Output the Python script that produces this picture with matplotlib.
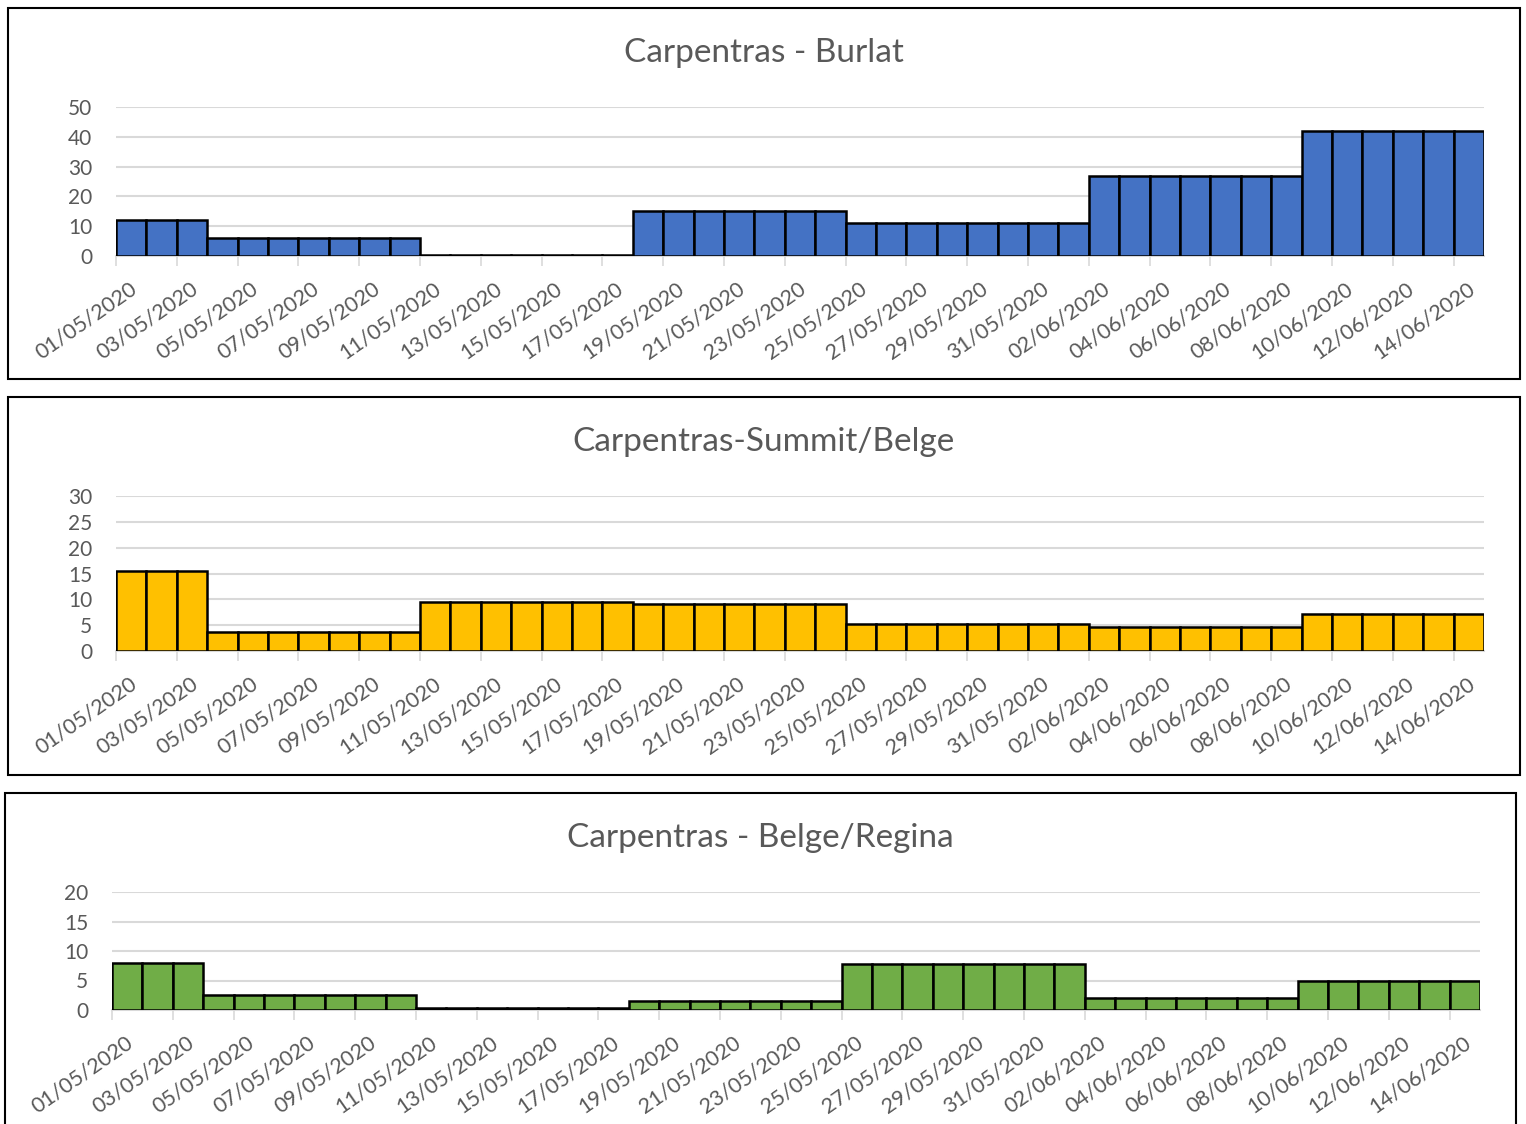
import matplotlib
matplotlib.use("Agg")
import matplotlib.pyplot as plt
from matplotlib.patches import Rectangle
import matplotlib.transforms as mtransforms
import datetime as dt

# --- data ---
start = dt.date(2020, 5, 1)
days = [start + dt.timedelta(days=i) for i in range(45)]
date_labels = [d.strftime("%d/%m/%Y") for d in days]

burlat = [12] * 3 + [6] * 7 + [0.4] * 7 + [15] * 7 + [11] * 8 + [27] * 7 + [42] * 6
summit_belge = [15.5] * 3 + [3.7] * 7 + [9.5] * 7 + [9.1] * 7 + [5.3] * 8 + [4.7] * 7 + [7.1] * 6
belge_regina = [8] * 3 + [2.5] * 7 + [0.4] * 7 + [1.5] * 7 + [7.8] * 8 + [2.1] * 7 + [4.9] * 6

titles = ["Carpentras - Burlat", "Carpentras-Summit/Belge", "Carpentras - Belge/Regina"]
series = [burlat, summit_belge, belge_regina]
colors = ["#4472C4", "#FFC000", "#70AD47"]
yticks = [[0, 10, 20, 30, 40, 50], [0, 5, 10, 15, 20, 25, 30], [0, 5, 10, 15, 20]]

W, H = 1526, 1124
DPI = 100
plt.rcParams["font.family"] = ["Lato", "DejaVu Sans"]
fig = plt.figure(figsize=(W / DPI, H / DPI), dpi=DPI)

grey = "#595959"

# pixel layouts: (box x0, y0, x1, y1), (plot left, top, right, bottom), title y
layouts = [
    ((8, 8, 1520, 379), (116, 107, 1484, 256), 53),
    ((8, 397, 1520, 775), (116, 496, 1484, 651), 442),
    ((5, 793, 1516, 1130), (112, 892, 1480, 1010), 838),
]


def fx(x):
    return x / W


def fy(y):
    return 1 - y / H


for vals, title, col, yt, (box, plot, ty) in zip(series, titles, colors, yticks, layouts):
    bx0, by0, bx1, by1 = box
    fig.add_artist(Rectangle((fx(bx0), fy(by1)), fx(bx1 - bx0), (by1 - by0) / H,
                             transform=fig.transFigure, fill=False,
                             edgecolor="black", linewidth=1.5))
    l, t, r, b = plot
    ax = fig.add_axes([fx(l), fy(b), fx(r - l), (b - t) / H])
    ax.bar(range(len(vals)), vals, width=1, align="edge", color=col,
           edgecolor="black", linewidth=1.8, zorder=3)
    ax.set_xlim(0, len(vals))
    ax.set_ylim(yt[0], yt[-1])
    ax.set_yticks(yt)
    ax.grid(axis="y", color="#d9d9d9", linewidth=1.5, zorder=0)
    for s in ["top", "right", "left"]:
        ax.spines[s].set_visible(False)
    ax.spines["bottom"].set_color("#d9d9d9")
    ax.spines["bottom"].set_linewidth(1.5)
    ax.tick_params(axis="y", length=0, pad=17, labelsize=15, labelcolor=grey)
    ax.set_xticks(range(0, len(vals), 2))
    ax.set_xticklabels(date_labels[::2], rotation=35, ha="right",
                       rotation_mode="anchor", fontsize=15.5, color=grey)
    ax.tick_params(axis="x", length=7, width=1.2, color="#d9d9d9", pad=9)
    offset = mtransforms.ScaledTranslation(13 / DPI, 0, fig.dpi_scale_trans)
    for lab in ax.get_xticklabels():
        lab.set_transform(lab.get_transform() + offset)
    fig.text(fx((bx0 + bx1) / 2), fy(ty), title, ha="center", va="center",
             fontsize=24, color=grey)

fig.savefig("out.png", dpi=DPI)
